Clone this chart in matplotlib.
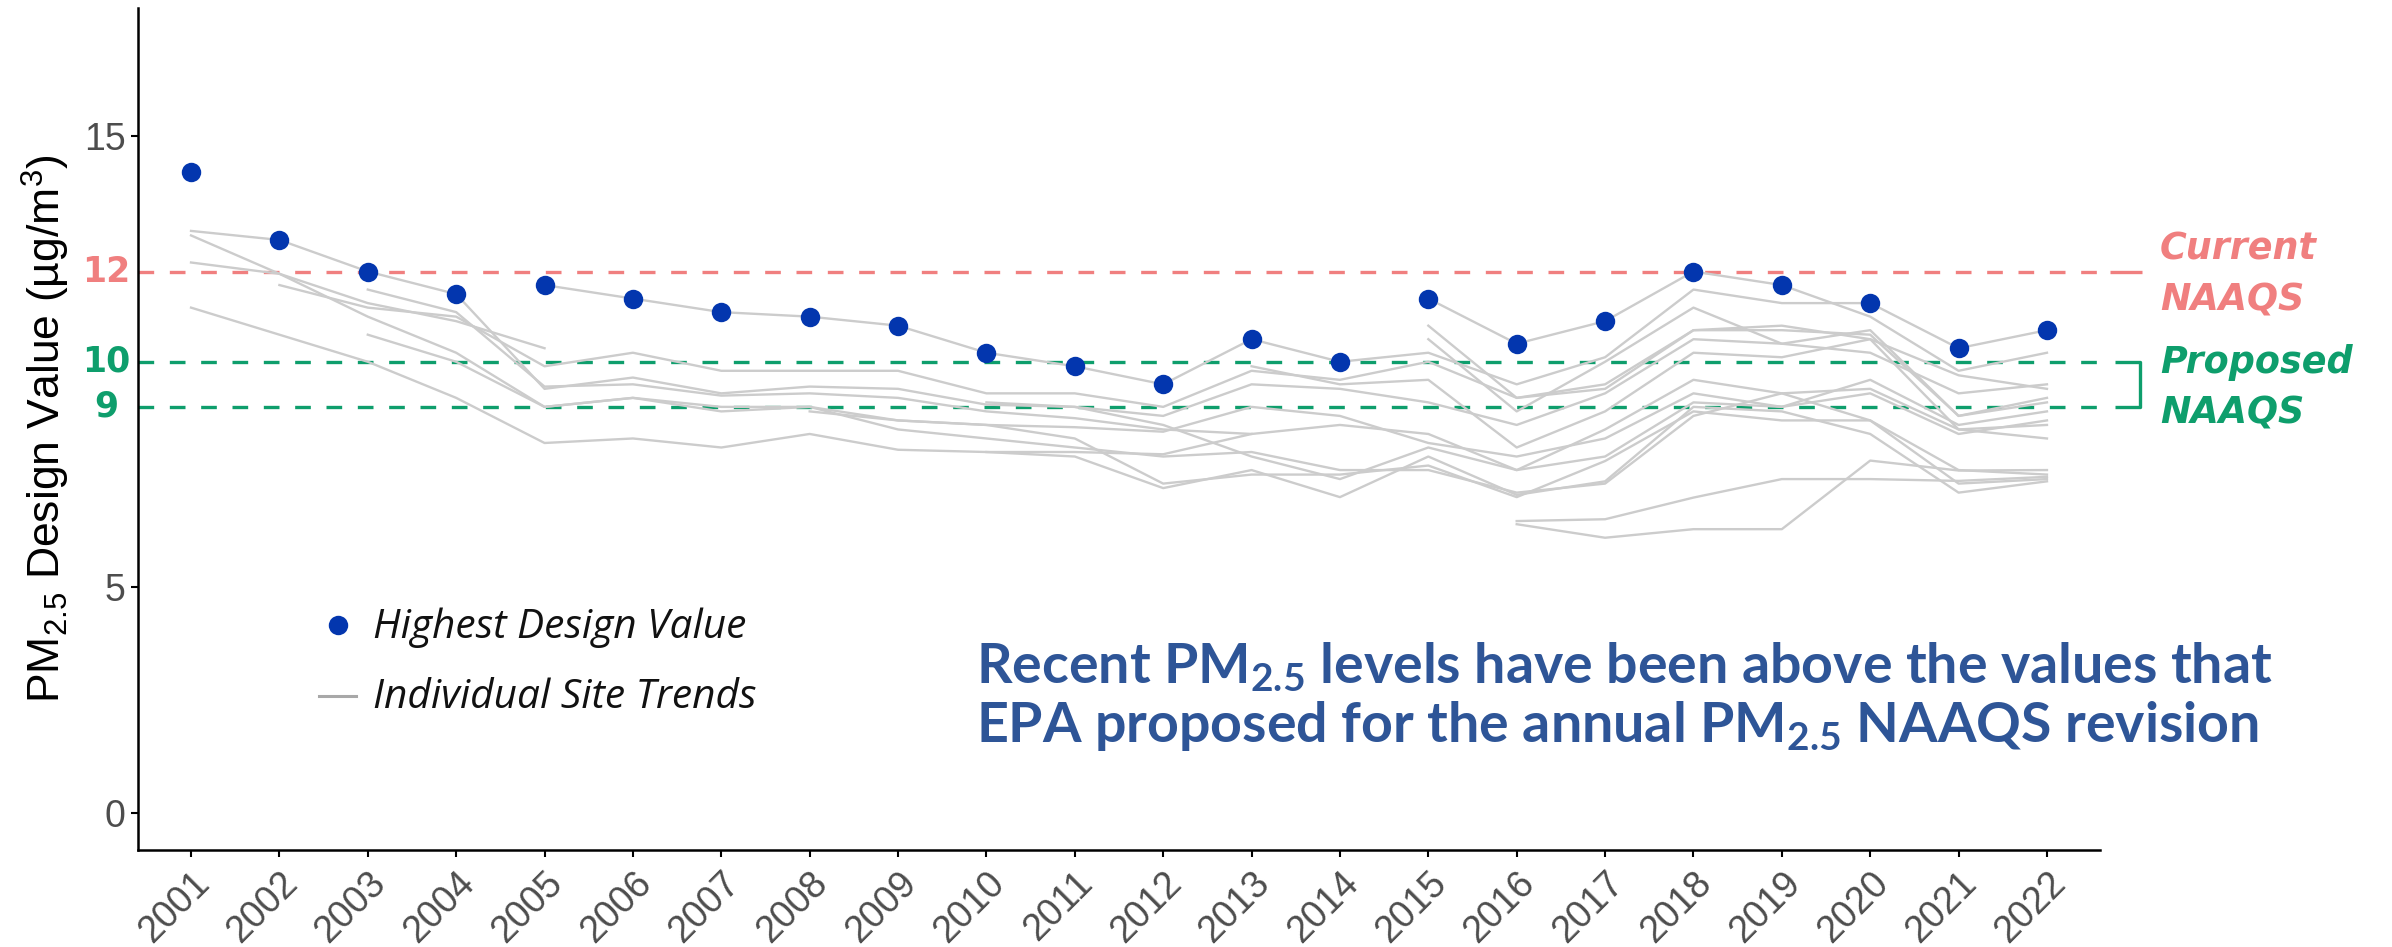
import numpy as np
import matplotlib
matplotlib.use("Agg")
import matplotlib.pyplot as plt
from matplotlib.lines import Line2D
from matplotlib.transforms import blended_transform_factory

plt.rcParams['mathtext.fontset'] = 'custom'
plt.rcParams['mathtext.rm'] = 'Liberation Sans'
plt.rcParams['mathtext.it'] = 'Liberation Sans:italic'
plt.rcParams['mathtext.bf'] = 'Lato:bold'

nan = np.nan
years = list(range(2001, 2023))
highest_dv = [14.2, 12.7, 12.0, 11.5, 11.7, 11.4, 11.1, 11.0, 10.8, 10.2, 9.9,
              9.5, 10.5, 10.0, 11.4, 10.4, 10.9, 12.0, 11.7, 11.3, 10.3, 10.7]

site_01 = [12.9, 12.7, 12.0, 11.5, 9.4, 9.65, 9.3, 9.45, 9.4, 9.05, 9.0, 8.8, 9.5, 9.4, 9.1, 8.6, 9.3, 10.5, 10.4, 10.7, 8.8, 9.2]
site_02 = [12.8, 11.95, 11.0, 10.2, 9.0, 9.2, 9.0, 9.0, 8.7, 8.6, 8.55, 8.45, 9.0, 8.8, 8.2, 7.9, 8.3, 9.3, 9.0, 9.3, 8.4, 8.7]
site_03 = [12.2, 11.95, 11.3, 10.9, 10.3] + [nan] * 17
site_04 = [11.2, 10.6, 10.0, 9.2, 8.2, 8.3, 8.1, 8.4, 8.05, 8.0, 8.0, 7.95, 8.4] + [nan] * 9
site_05 = [nan, 11.7, 11.2, 11.0, 9.9, 10.2, 9.8, 9.8, 9.8, 9.3, 9.3, 9.0, 9.8, 9.6, 10.0, 9.2, 9.4, 10.7, 10.8, 10.5, 9.7, 9.4]
site_06 = [nan, nan, 11.6, 11.1, 9.45, 9.5, 9.25, 9.3, 9.2, 8.9, 8.75, 8.5, 8.4, 8.6, 8.4, 7.6, 7.9, 9.1, 9.0, 9.6, 8.6, 8.9]
site_07 = [nan, nan, 10.6, 10.0, 9.0, 9.2, 8.9, 9.0, 8.5, 8.3, 8.1, 7.9, 8.0, 7.6, 7.6, 7.1, 7.3, 8.8, 9.3, 9.4, 8.5, 8.6]
site_08 = [nan] * 4 + [11.7, 11.4, 11.1, 11.0, 10.8, 10.2, 9.9, 9.5, 10.5, 10.0, 10.2, 9.5, 10.1, 11.6, 11.3, 11.3, 10.3, 10.7]
site_09 = [nan] * 7 + [8.9, 8.7, 8.6, 8.3, 7.3, 7.5, 7.5, 7.7, 7.0, 7.8, 8.9, 8.7, 8.7, 7.6, 7.5]
site_10 = [nan] * 9 + [9.1, 9.0, 8.6, 7.9, 7.4, 8.1, 7.6, 8.5, 9.6, 9.3, 8.7, 7.3, 7.4]
site_11 = [nan] * 14 + [11.4, 10.4, 10.9, 12.0, 11.7, 11.0, 9.8, 10.2]
site_12 = [nan] * 14 + [10.8, 9.2, 9.5, 10.7, 10.7, 10.6, 8.8, 9.1]
site_13 = [nan] * 14 + [10.5, 8.9, 10.0, 11.2, 10.4, 10.2, 9.3, 9.5]
site_14 = [nan] * 15 + [6.47, 6.51, 6.99, 7.4, 7.4, 7.36, 7.45]
site_15 = [nan] * 15 + [6.4, 6.1, 6.29, 6.29, 7.81, 7.59, 7.6]
site_16 = [nan] * 12 + [9.9, 9.5, 9.6, 8.1, 8.9, 10.2, 10.1, 10.5, 8.5, 8.3]
site_17 = [nan] * 9 + [8.0, 7.9, 7.2, 7.6, 7.0, 7.9, 7.05, 7.35, 9.0, 8.9, 8.4, 7.1, 7.35]
sites = [site_01, site_02, site_03, site_04, site_05, site_06, site_07, site_08, site_09,
         site_10, site_11, site_12, site_13, site_14, site_15, site_16, site_17]

current_naaqs = 12
proposed_naaqs = [10, 9]
ytick_vals = [0, 5, 15]

RED = '#F07F7F'
GREEN = '#0E9E6C'
BLUE = '#0336AE'
TXTBLUE = '#2E5597'
GREY = '#CCCCCC'

W, H = 2392, 947
fig = plt.figure(figsize=(W / 100, H / 100), dpi=100)
ax = fig.add_axes([138 / W, 1 - 850 / H, (2100 - 138) / W, (850 - 8) / H])

for s in sites:
    ax.plot(years, s, color=GREY, lw=1.7, zorder=2, solid_joinstyle='round')

ax.axhline(current_naaqs, color=RED, lw=2.4, dashes=(4.7, 4.7), zorder=1)
for v in proposed_naaqs:
    ax.axhline(v, color=GREEN, lw=2.4, dashes=(4.7, 4.7), zorder=1)

ax.plot(years, highest_dv, 'o', ms=14, color=BLUE, mec='none', zorder=4)

ax.set_xlim(2000.4, 2022.6)
ax.set_ylim(-0.82, 17.84)

for sp in ['top', 'right']:
    ax.spines[sp].set_visible(False)
for sp in ['left', 'bottom']:
    ax.spines[sp].set_linewidth(1.8)
    ax.spines[sp].set_color('black')

ax.set_xticks(years)
ax.set_xticklabels([str(y) for y in years], rotation=45, ha='right', va='top',
                   rotation_mode='anchor', family='Liberation Sans')
ax.set_yticks(ytick_vals)
ax.set_yticklabels([str(v) for v in ytick_vals], family='Liberation Sans')
ax.tick_params(axis='x', length=5, width=1.5, labelsize=27, labelcolor='#4D4D4D', pad=6)
ax.tick_params(axis='y', length=5, width=1.5, labelsize=27, labelcolor='#4D4D4D', pad=4)

# coloured standard labels on the y axis
bt = blended_transform_factory(fig.transFigure, ax.transData)
kw_num = dict(transform=bt, ha='right', va='center', fontsize=25,
              family='DejaVu Sans', fontweight='bold')
ax.text(130 / W, current_naaqs, str(current_naaqs), color=RED, **kw_num)
ax.text(130 / W, proposed_naaqs[0], str(proposed_naaqs[0]), color=GREEN, **kw_num)
ax.text(118 / W, proposed_naaqs[1], str(proposed_naaqs[1]), color=GREEN, **kw_num)

# red tail and green bracket outside the axes
ax.add_line(Line2D([2110 / W, 2142 / W], [current_naaqs, current_naaqs], transform=bt,
                   color=RED, lw=2.4, clip_on=False, solid_capstyle='butt'))
ax.add_line(Line2D([2115 / W, 2140 / W, 2140 / W, 2115 / W],
                   [proposed_naaqs[0], proposed_naaqs[0], proposed_naaqs[1], proposed_naaqs[1]],
                   transform=bt, color=GREEN, lw=2.4, clip_on=False,
                   solid_joinstyle='round', solid_capstyle='butt'))

def ftxt(px, py, s, **kw):
    return fig.text(px / W, 1 - py / H, s, **kw)

# right-hand labels
kw_std = dict(family='DejaVu Sans', fontweight='bold', style='italic', fontsize=26,
              va='baseline', ha='left')
std_texts = [ftxt(2160, 260, 'Current', color=RED, **kw_std),
             ftxt(2160, 310, 'NAAQS', color=RED, **kw_std),
             ftxt(2160, 373, 'Proposed', color=GREEN, **kw_std),
             ftxt(2160, 423, 'NAAQS', color=GREEN, **kw_std)]

# y label
ylab = ftxt(46, 429, 'PM$_{2.5}$ Design Value (µg/m$^{3}$)', rotation=90, ha='center', va='center',
            family='Liberation Sans', fontsize=31, color='black')

# legend
fig.add_artist(Line2D([338 / W], [1 - 625 / H], marker='o', ms=14, color=BLUE, mec='none',
                      transform=fig.transFigure))
fig.add_artist(Line2D([319 / W, 356 / W], [1 - 696 / H, 1 - 696 / H], color='#A8A8A8', lw=2.2,
                      transform=fig.transFigure))
leg1 = ftxt(373, 638, 'Highest Design Value', family='Open Sans', style='italic', fontsize=25,
            va='baseline', ha='left', color='#111111')
leg2 = ftxt(373, 708, 'Individual Site Trends', family='Open Sans', style='italic', fontsize=25,
            va='baseline', ha='left', color='#111111')

# annotation
a1 = ftxt(976, 683, r'Recent PM$_{\mathbf{2.5}}$ levels have been above the values that',
          family='Lato', fontweight='bold', fontsize=31, color=TXTBLUE, va='baseline', ha='left')
a2 = ftxt(976, 742, r'EPA proposed for the annual PM$_{\mathbf{2.5}}$ NAAQS revision',
          family='Lato', fontweight='bold', fontsize=31, color=TXTBLUE, va='baseline', ha='left')

# fit sizes to the reference text extents
fig.canvas.draw()
r = fig.canvas.get_renderer()
s1 = 1297 / a1.get_window_extent(renderer=r).width
a1.set_fontsize(a1.get_fontsize() * s1)
a2.set_fontsize(a2.get_fontsize() * s1)
ylab.set_fontsize(ylab.get_fontsize() * 548 / ylab.get_window_extent(renderer=r).height)
sl = 373 / leg1.get_window_extent(renderer=r).width
leg1.set_fontsize(leg1.get_fontsize() * sl)
leg2.set_fontsize(leg2.get_fontsize() * sl)
ss = 193 / std_texts[2].get_window_extent(renderer=r).width
for t in std_texts:
    t.set_fontsize(t.get_fontsize() * ss)

fig.savefig('out.png', dpi=100)
